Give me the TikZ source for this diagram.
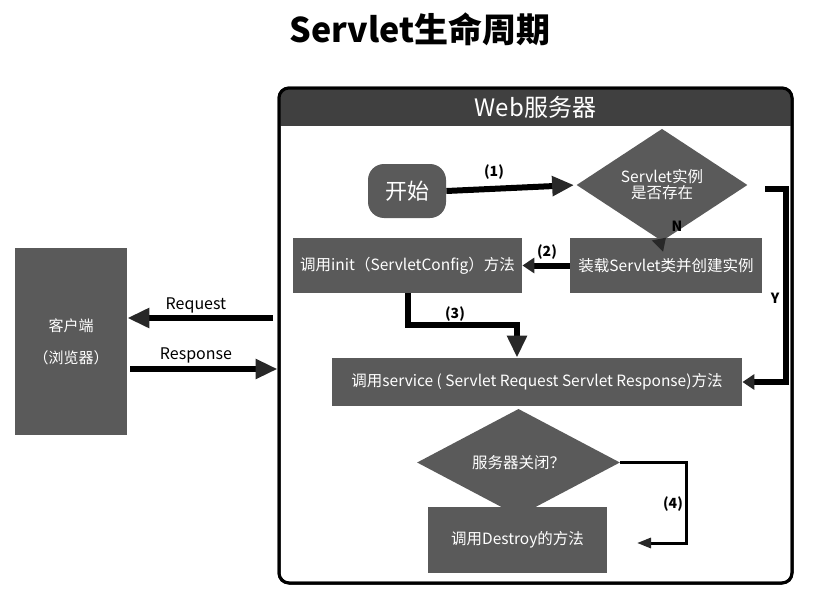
\documentclass[tikz,border=0pt]{standalone}
\usepackage{fontspec}
\setmainfont{Noto Sans CJK SC}
\usetikzlibrary{arrows.meta,shapes.geometric}

\definecolor{boxgray}{RGB}{90,90,90}
\definecolor{headgray}{RGB}{64,64,64}
\definecolor{tipgray}{RGB}{40,40,40}

\tikzset{every picture/.style={line width=0.75pt},
  graybox/.style={fill=boxgray,text=white,inner sep=0pt,font=\fontsize{15.5}{18}\selectfont},
  grayturn/.style={diamond,fill=boxgray,text=white,inner sep=0pt,align=center,font=\fontsize{15.5}{18}\selectfont},
  flow/.style={line width=6pt,draw=black,-{Triangle[length=22pt,width=19pt,color=tipgray]}},
  thinflow/.style={line width=3pt,draw=black,-{Triangle[length=14pt,width=10pt,color=tipgray]}},
  steplabel/.style={font=\fontsize{14}{16}\selectfont\bfseries}
}

\begin{document}
\begin{tikzpicture}[x=1pt,y=1pt,yscale=-1,xscale=1]
\useasboundingbox (0,0) rectangle (829,610);

% Title
\node[font=\fontsize{34}{40}\selectfont\bfseries] (title) at (420,29) {Servlet生命周期};

%Rounded Rect: Web server
\node[draw,line width=3pt,rounded corners=10pt,minimum width=513,minimum height=495,inner sep=0pt] (server) at (535.5,335.5) {};
\begin{scope}
\clip[rounded corners=10pt] (279,88) rectangle (792,583);
\fill[headgray] (279,88) rectangle (792,126);
\end{scope}
\draw[line width=3pt,rounded corners=10pt] (279,88) rectangle (792,583);
\node[text=white,font=\fontsize{24}{28}\selectfont] (webtitle) at (535.5,107) {Web服务器};

% Client
\node[graybox,minimum width=112,minimum height=187,align=center,font=\fontsize{15}{18}\selectfont] (client) at (71,341.5) {客户端\\[14pt]（浏览器）};

% Steps
\node[graybox,rounded corners=16pt,minimum width=78,minimum height=54,font=\fontsize{22}{26}\selectfont] (start) at (407,191) {开始};
\node[grayturn,minimum width=171,minimum height=60] (exists) at (662,185) {Servlet实例\\[-2pt]是否存在};
\node[graybox,minimum width=192,minimum height=55] (load) at (666,265.5) {装载Servlet类并创建实例};
\node[graybox,minimum width=229,minimum height=55] (init) at (407.5,265.5) {调用init（ServletConfig）方法};
\node[graybox,minimum width=410,minimum height=48] (service) at (537,382) {调用service ( Servlet Request Servlet Response)方法};
\node[grayturn,minimum width=203,minimum height=75] (close) at (518.5,462.5) {服务器关闭？};
\node[graybox,minimum width=179,minimum height=66] (destroy) at (517.5,540) {调用Destroy的方法};

% Connectors
\coordinate (yfrom) at (765,189);
\coordinate (yturn) at (786,189);
\coordinate (bend3) at (517,325);
\coordinate (turn4) at (686,543);
\coordinate (end4) at (637,543);
\coordinate (reqfrom) at (273,318);
\coordinate (respfrom) at (130,369);

\draw[flow,shorten >=2pt] (start.east) -- (exists.west);
\draw[flow,-{Triangle[length=12pt,width=15pt,color=tipgray]}] (exists.south) -- (load.north);
\draw[flow,-{Triangle[length=12pt,width=15pt,color=tipgray]}] (load.west) -- (init.east);
\draw[flow] (init.south) |- (bend3) -- (bend3 |- service.north);
\draw[flow,-{Triangle[length=12pt,width=15pt,color=tipgray]}] (yfrom) -- (yturn) |- (service.east);
\draw[thinflow] (close.east) -| (turn4) -- (end4);
\draw[flow] (reqfrom) -- (reqfrom -| client.east);
\draw[flow] (respfrom) -- (respfrom -| server.west);

% Text Node
\node[steplabel] (l1) at (494,172) {(1)};
\node[steplabel] (lN) at (677,226) {N};
\node[steplabel] (l2) at (547,252) {(2)};
\node[steplabel] (l3) at (455,314) {(3)};
\node[steplabel] (lY) at (775,298) {Y};
\node[steplabel] (l4) at (673,504) {(4)};
\node[font=\fontsize{16}{18}\selectfont] (lreq) at (196,305) {Request};
\node[font=\fontsize{16}{18}\selectfont] (lresp) at (196,355) {Response};

\end{tikzpicture}
\end{document}
